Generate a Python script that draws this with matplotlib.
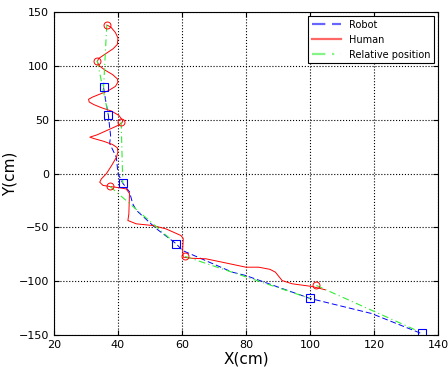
import matplotlib
matplotlib.use('Agg')
import matplotlib.pyplot as plt
import numpy as np

# robot trajectory (blue dashed)
robot_x = [35.5, 36.2, 37, 37.7, 37.4, 39.5, 40, 41.5, 43.6, 44.6, 45.7, 51.9, 58.1, 60.2,
           67.5, 75.7, 79.9, 100, 119.2, 134.8]
robot_y = [80, 67, 54, 35, 28, 15, 0, -9, -17, -28, -34, -51, -65, -71.5,
           -81, -91.6, -94.7, -116, -130, -148.6]

# human trajectory (red solid)
human_x = [36.5, 37.8, 39.2, 40, 39.8, 38.5, 36, 34, 33.5, 34.2, 36, 38.3, 39.8, 40, 39.2, 37,
           34.5, 32, 30.8, 31, 32.5, 35, 38, 40.3, 41.5, 41.2, 39.5, 36.5, 33.5, 31.2, 32.5,
           35.5, 38.3, 39.8, 40, 39.5, 38, 36.4, 34.8, 34.3, 35.3, 37.4, 40, 42.6, 43.6, 43.4,
           43.1, 45.7, 50.9, 55, 59.7, 60.4, 60.2, 60.4, 63, 67.5, 72, 80, 84, 87.5, 89.2,
           91.3, 94.4, 100.6, 104.8]
human_y = [138, 136, 131, 126, 120, 116, 111, 107, 104, 100, 96, 92, 88, 85, 81, 77,
           74, 71, 69, 66.5, 64, 61, 58, 54, 49, 47, 44, 40, 36, 33.8, 32.5,
           30, 27, 24, 20, 15, 7.4, 0, -5, -8, -11, -12, -13, -14.3, -18.6, -37.5,
           -43.6, -46.7, -48.3, -51.4, -57.6, -60.4, -71.5, -77.7, -78.7, -79.2, -82, -87, -87, -89, -91.6,
           -99.4, -102.4, -104.9, -108]

# sample instants: human markers and matching robot markers
hum_mark_x = [36.5, 33.5, 41, 37.5, 61, 102]
hum_mark_y = [138, 105, 48, -12, -77, -104]
rob_mark_x = [35.5, 37, 41.5, 58, 100, 135]
rob_mark_y = [80, 54, -9, -65, -116, -148]

fig = plt.figure(figsize=(4.48, 3.67), dpi=100)
ax = fig.add_axes([0.1205, 0.0872, 0.857, 0.8798])

ax.plot(robot_x, robot_y, color='#0000ff', ls=(0, (6, 3)), lw=0.7, label='Robot')
ax.plot(human_x, human_y, color='#ff0000', lw=0.7, label='Human')
for i in range(len(hum_mark_x)):
    ax.plot([hum_mark_x[i], rob_mark_x[i]], [hum_mark_y[i], rob_mark_y[i]],
            color='#33ee33', ls=(0, (6, 3, 1, 3)), lw=0.8,
            label='Relative position' if i == 0 else None)
ax.plot(hum_mark_x, hum_mark_y, 'o', mfc='none', mec='#ff0000', ms=5, mew=0.7)
ax.plot(rob_mark_x, rob_mark_y, 's', mfc='none', mec='#0000ff', ms=6, mew=0.8)

ax.set_xlim(20, 140)
ax.set_ylim(-150, 150)
ax.set_xticks(np.arange(20, 141, 20))
ax.set_yticks(np.arange(-150, 151, 50))
ax.tick_params(direction='in', labelsize=8, top=True, right=True)
ax.grid(True, color='black', ls=':', lw=0.8)
ax.set_xlabel('X(cm)', fontsize=11, labelpad=1)
ax.set_ylabel('Y(cm)', fontsize=11, labelpad=1)

leg = ax.legend(loc='upper right', fontsize=7, fancybox=False, edgecolor='black',
                framealpha=1, borderaxespad=0.4, handlelength=3)
leg.get_frame().set_linewidth(0.8)
for h in leg.get_lines():
    h.set_linewidth(1.6)
    h.set_alpha(0.6)

fig.savefig('out.png', dpi=100)
